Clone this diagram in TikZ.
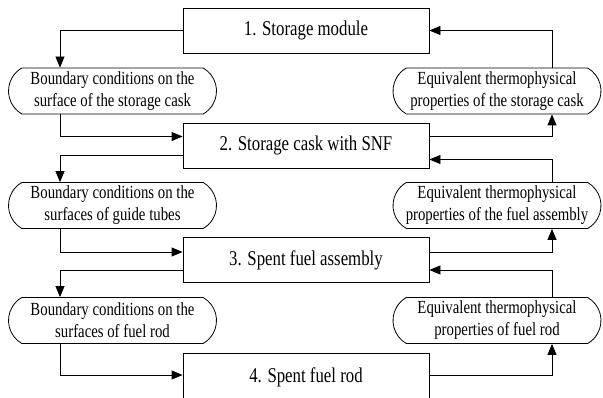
\documentclass[tikz,border=0pt]{standalone}
\usepackage{fontspec}
\setmainfont{Liberation Serif}[FakeStretch=0.8]
\usepackage{tikz}
\usetikzlibrary{arrows.meta,positioning,shapes.misc}

\tikzset{
  level/.style={draw, line width=0.8pt, minimum width=246pt, minimum height=45pt, inner sep=0pt, font=\fontsize{21}{24}\selectfont},
  cond/.style={draw, rounded rectangle, rounded rectangle arc length=120, line width=0.8pt, minimum width=210pt, minimum height=46pt, inner sep=1pt, align=center, font=\fontsize{18.5}{22}\selectfont},
  flow/.style={-{Triangle[length=11pt,width=9pt]}, line width=0.8pt},
}

\begin{document}
\begin{tikzpicture}[x=1pt,y=-1pt]
  \clip (0,0) rectangle (603,398);

  % the four levels of the model
  \node[level] (m1) at (306,30.5) {1. Storage module};
  \node[level] (m2) at (306,145.5) {2. Storage cask with SNF};
  \node[level] (m3) at (306,260) {3. Spent fuel assembly};
  \node[level, minimum height=48pt] (m4) at (306,377) {4. Spent fuel rod};

  % boundary conditions passed down
  \node[cond] (bc1) at (112.5,91) {Boundary conditions on the\\surface of the storage cask};
  \node[cond] (bc2) at (112.5,205.5) {Boundary conditions on the\\surfaces of guide tubes};
  \node[cond] (bc3) at (112.5,320.5) {Boundary conditions on the\\surfaces of fuel rod};

  % equivalent properties passed up
  \node[cond] (ep1) at (497,91) {Equivalent thermophysical\\properties of the storage cask};
  \node[cond] (ep2) at (497,205.5) {Equivalent thermophysical\\properties of the fuel assembly};
  \node[cond] (ep3) at (497,320.5) {Equivalent thermophysical\\properties of fuel rod};

  % left side
  \draw[flow] (m1.west) -| ([xshift=-52.5pt]bc1.north);
  \draw[flow] ([xshift=-52.5pt]bc1.south) |- ([yshift=9pt]m2.west);
  \draw[flow] ([yshift=-10pt]m2.west) -| ([xshift=-52.5pt]bc2.north);
  \draw[flow] ([xshift=-52.5pt]bc2.south) |- ([yshift=8pt]m3.west);
  \draw[flow] ([yshift=-10pt]m3.west) -| ([xshift=-52.5pt]bc3.north);
  \draw[flow] ([xshift=-52.5pt]bc3.south) |- ([yshift=2pt]m4.west);

  % right side
  \draw[flow] ([xshift=55pt]ep1.north) |- (m1.east);
  \draw[flow] ([yshift=9pt]m2.east) -| ([xshift=55pt]ep1.south);
  \draw[flow] ([xshift=55pt]ep2.north) |- ([yshift=-14pt]m2.east);
  \draw[flow] ([yshift=8pt]m3.east) -| ([xshift=55pt]ep2.south);
  \draw[flow] ([xshift=55pt]ep3.north) |- ([yshift=-10pt]m3.east);
  \draw[flow] ([yshift=2pt]m4.east) -| ([xshift=55pt]ep3.south);
\end{tikzpicture}
\end{document}
